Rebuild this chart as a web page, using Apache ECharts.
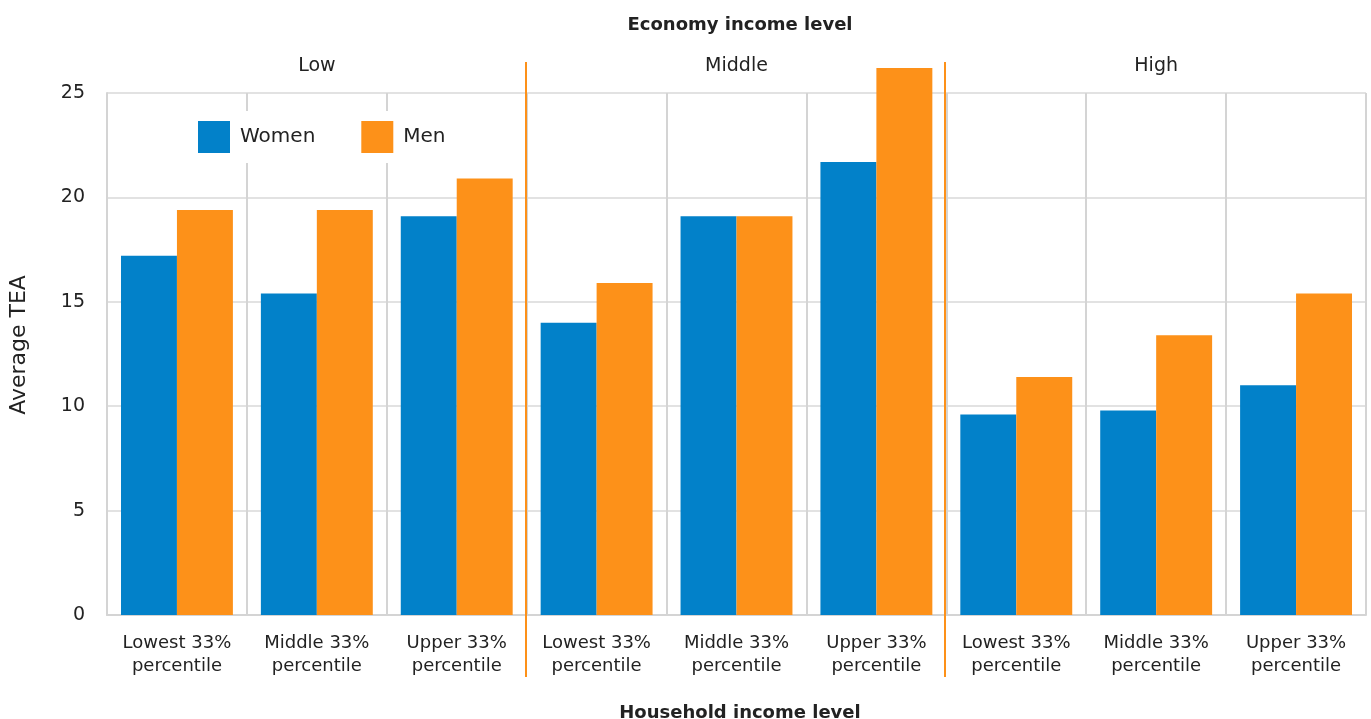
<!DOCTYPE html>
<html>
<head>
<meta charset="utf-8">
<title>Average TEA by household and economy income level</title>
<script src="https://cdn.jsdelivr.net/npm/echarts@6/dist/echarts.min.js"></script>
<style>
  html, body { margin: 0; padding: 0; background: #fff; }
  #chart { width: 1371px; height: 719px; }
</style>
</head>
<body>
<div id="chart"></div>
<script>
// Household income bands, repeated for each economy income level
const categories = [
  'Lowest 33%\npercentile', 'Middle 33%\npercentile', 'Upper 33%\npercentile',
  'Lowest 33%\npercentile', 'Middle 33%\npercentile', 'Upper 33%\npercentile',
  'Lowest 33%\npercentile', 'Middle 33%\npercentile', 'Upper 33%\npercentile'
];
const economyGroups = ['Low', 'Middle', 'High'];
const women = [17.2, 15.4, 19.1, 14.0, 19.1, 21.7, 9.6, 9.8, 11.0];
const men   = [19.4, 19.4, 20.9, 15.9, 19.1, 26.2, 11.4, 13.4, 15.4];
const yTicks = { min: 0, max: 25, interval: 5 };

const FONT = 'DejaVu Sans';
const TEXT = '#222';
const BLUE = '#0281C9';
const ORANGE = '#FD9119';
const GRID_V = '#d4d4d4';
const GRID_H = '#e2e2e2';

const chart = echarts.init(document.getElementById('chart'), null, { renderer: 'canvas' });

const option = {
  backgroundColor: '#fff',
  textStyle: { fontFamily: FONT, color: TEXT },
  animation: false,
  title: [
    {
      text: 'Economy income level',
      left: 735, top: 11, textAlign: 'center',
      textStyle: { fontFamily: FONT, fontSize: 18, fontWeight: 'bold', color: TEXT }
    },
    {
      text: 'Household income level',
      left: 735, top: 699, textAlign: 'center',
      textStyle: { fontFamily: FONT, fontSize: 18, fontWeight: 'bold', color: TEXT }
    }
  ],
  legend: {
    data: ['Women', 'Men'],
    left: 188, top: 111,
    padding: [10, 14, 10, 10],
    backgroundColor: '#fff',
    itemWidth: 32, itemHeight: 32, itemGap: 46,
    icon: 'rect',
    textStyle: { fontFamily: FONT, fontSize: 20, color: TEXT, padding: [0, 0, 0, 5] }
  },
  grid: { left: 106, right: 5, top: 93, bottom: 104, containLabel: false },
  xAxis: [
    {
      type: 'category',
      data: categories,
      axisLine: { show: true, lineStyle: { color: GRID_V, width: 2 } },
      axisTick: { show: false },
      splitLine: { show: true, lineStyle: { color: GRID_V, width: 2 } },
      axisLabel: {
        interval: 0, margin: 17,
        fontFamily: FONT, fontSize: 18, lineHeight: 23, color: TEXT
      }
    },
    {
      type: 'category',
      position: 'top',
      data: economyGroups,
      axisLine: { show: false },
      axisTick: { show: false },
      splitLine: { show: false },
      axisLabel: { interval: 0, margin: 17, fontFamily: FONT, fontSize: 19, color: TEXT }
    }
  ],
  yAxis: {
    type: 'value',
    min: yTicks.min, max: yTicks.max, interval: yTicks.interval,
    name: 'Average TEA',
    nameLocation: 'middle',
    nameRotate: 90,
    nameGap: 77,
    nameTextStyle: { fontFamily: FONT, fontSize: 22, color: TEXT, padding: [0, 0, 0, 18] },
    axisLine: { show: true, lineStyle: { color: GRID_V, width: 2 } },
    axisTick: { show: false },
    splitLine: { show: true, lineStyle: { color: GRID_H, width: 2 } },
    axisLabel: { margin: 22, fontFamily: FONT, fontSize: 19, color: TEXT }
  },
  series: [
    {
      name: 'Women', type: 'bar', data: women,
      itemStyle: { color: BLUE },
      barGap: '0%', barCategoryGap: '20%', clip: false, z: 3
    },
    {
      name: 'Men', type: 'bar', data: men,
      itemStyle: { color: ORANGE },
      barGap: '0%', barCategoryGap: '20%', clip: false, z: 3
    }
  ]
};

chart.setOption(option);

// Orange dividers between the economy income groups, placed at the
// boundaries between category 3|4 and 6|7 on the bottom axis.
function drawDividers() {
  const lines = [];
  const per = categories.length / economyGroups.length;
  for (let g = 1; g < economyGroups.length; g++) {
    const a = chart.convertToPixel({ xAxisIndex: 0 }, g * per - 1);
    const b = chart.convertToPixel({ xAxisIndex: 0 }, g * per);
    const x = Math.round((a + b) / 2) - 1;
    lines.push({
      type: 'line',
      z: 10,
      shape: { x1: x, y1: 62, x2: x, y2: 677 },
      style: { stroke: ORANGE, lineWidth: 2 }
    });
  }
  chart.setOption({ graphic: lines });
}
drawDividers();
</script>
</body>
</html>
